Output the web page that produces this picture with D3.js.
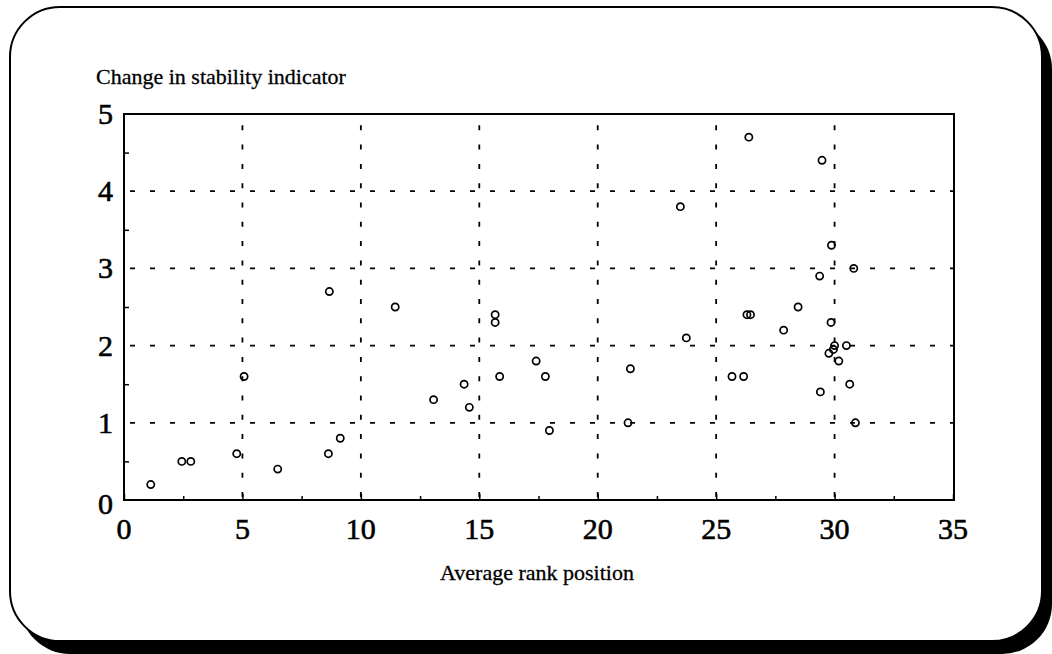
<!DOCTYPE html>
<html>
<head>
<meta charset="utf-8">
<script src="https://cdn.jsdelivr.net/npm/d3@7"></script>
<style>
  html, body { margin: 0; padding: 0; background: #fff; }
  svg { display: block; }
  text { font-family: "Liberation Serif", "Times New Roman", serif; fill: #000; }
</style>
</head>
<body>
<svg id="chart" width="1052" height="654"></svg>
<script>
// ---- data ----
const rankPosition = [1.13, 2.44, 2.82, 4.76, 5.07, 6.49, 8.67, 8.63, 9.13, 11.45,
  13.07, 14.36, 14.58, 15.67, 15.67, 15.86, 17.4, 17.79, 17.96, 21.28,
  21.38, 23.49, 23.74, 25.67, 26.16, 26.3, 26.45, 26.38, 27.85, 28.46,
  29.37, 29.4, 29.47, 29.76, 29.85, 29.87, 30.0, 29.95, 30.18, 30.5,
  30.64, 30.81, 30.88];
const stabilityChange = [0.2, 0.5, 0.5, 0.6, 1.6, 0.4, 2.7, 0.6, 0.8, 2.5,
  1.3, 1.5, 1.2, 2.4, 2.3, 1.6, 1.8, 1.6, 0.9, 1.0,
  1.7, 3.8, 2.1, 1.6, 1.6, 2.4, 2.4, 4.7, 2.2, 2.5,
  2.9, 1.4, 4.4, 1.9, 2.3, 3.3, 2.0, 1.95, 1.8, 2.0,
  1.5, 3.0, 1.0];
const xTicks = [0, 5, 10, 15, 20, 25, 30, 35];
const yTicks = [0, 1, 2, 3, 4, 5];
const xMinorTicks = [2.5, 7.5, 12.5, 17.5, 22.5, 27.5, 32.5];
const yMinorTicks = [0.5, 1.5, 2.5, 3.5, 4.5];
const yTitle = "Change in stability indicator";
const xTitle = "Average rank position";

// ---- layout ----
const svg = d3.select("#chart");
const L = 124, R = 953, T = 114, B = 500;
const x = d3.scaleLinear().domain([0, 35]).range([L, R]);
const y = d3.scaleLinear().domain([0, 5]).range([B, T]);

// frame with shadow
svg.append("rect").attr("x", 20).attr("y", 19).attr("width", 1032).attr("height", 635)
  .attr("rx", 50).attr("ry", 50).attr("fill", "#000");
svg.append("rect").attr("x", 10).attr("y", 7).attr("width", 1032).attr("height", 634)
  .attr("rx", 50).attr("ry", 50).attr("fill", "#fff").attr("stroke", "#000").attr("stroke-width", 2);

const g = svg.append("g");

// grid
g.selectAll("line.vgrid").data(xTicks.filter(d => d > 0 && d < 35)).join("line")
  .attr("class", "vgrid")
  .attr("x1", d => x(d)).attr("x2", d => x(d))
  .attr("y1", B).attr("y2", T)
  .attr("stroke", "#000").attr("stroke-width", 1.8)
  .attr("stroke-dasharray", "5,14.3").attr("stroke-dashoffset", -3);
g.selectAll("line.hgrid").data(yTicks.filter(d => d > 0 && d < 5)).join("line")
  .attr("class", "hgrid")
  .attr("x1", L).attr("x2", R)
  .attr("y1", d => y(d)).attr("y2", d => y(d))
  .attr("stroke", "#000").attr("stroke-width", 1.8)
  .attr("stroke-dasharray", "5,15").attr("stroke-dashoffset", -6);

// box
g.append("rect").attr("x", L).attr("y", T).attr("width", R - L + 1).attr("height", B - T)
  .attr("fill", "none").attr("stroke", "#000").attr("stroke-width", 2);

// axes (ticks inward)
const xAxis = d3.axisBottom(x).tickValues(xTicks).tickSize(-6).tickFormat("");
const xAxisMinor = d3.axisBottom(x).tickValues(xMinorTicks).tickSize(-4).tickFormat("");
const yAxisMinor = d3.axisLeft(y).tickValues(yMinorTicks).tickSize(-5).tickFormat("");
[xAxis, xAxisMinor].forEach(ax => {
  const a = g.append("g").attr("transform", `translate(0,${B})`).call(ax);
  a.select(".domain").remove();
  a.selectAll("line").attr("stroke-width", 1.5);
});
const ya = g.append("g").attr("transform", `translate(${L},0)`).call(yAxisMinor);
ya.select(".domain").remove();
ya.selectAll("line").attr("stroke-width", 1.5);

// tick labels
g.selectAll("text.xl").data(xTicks).join("text").attr("class", "xl")
  .attr("x", d => x(d)).attr("y", 539).attr("text-anchor", "middle")
  .attr("font-size", 30).attr("stroke", "#000").attr("stroke-width", 0.6).text(d => d);
g.selectAll("text.yl").data(yTicks).join("text").attr("class", "yl")
  .attr("x", 113).attr("y", d => y(d) + (d === 0 ? 14 : 10)).attr("text-anchor", "end")
  .attr("font-size", 30).attr("stroke", "#000").attr("stroke-width", 0.6).text(d => d);

// titles
svg.append("text").attr("x", 96).attr("y", 84).attr("font-size", 22)
  .attr("stroke", "#000").attr("stroke-width", 0.3).text(yTitle);
svg.append("text").attr("x", 537).attr("y", 580).attr("text-anchor", "middle")
  .attr("font-size", 22).attr("stroke", "#000").attr("stroke-width", 0.3).text(xTitle);

// points
g.selectAll("circle.pt").data(rankPosition.map((v, i) => [v, stabilityChange[i]])).join("circle")
  .attr("class", "pt")
  .attr("cx", d => x(d[0])).attr("cy", d => y(d[1])).attr("r", 3.6)
  .attr("fill", "none").attr("stroke", "#000").attr("stroke-width", 1.7);
</script>
</body>
</html>
